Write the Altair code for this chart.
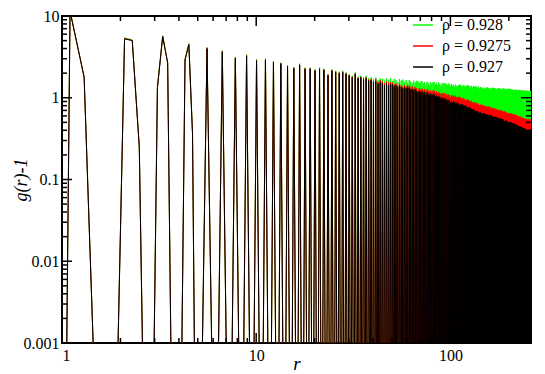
import altair as alt
import pandas as pd

# ---------------- data ----------------
series_labels = ["ρ = 0.928", "ρ = 0.9275", "ρ = 0.927"]
series_colors = ["#00ff00", "#ff0000", "#000000"]

# first four peaks, sample by sample (r, g(r)-1)
r_early = [0.9, 1.1, 1.3, 1.5, 1.9, 2.1, 2.3, 2.5, 2.7, 2.9, 3.1, 3.3, 3.5, 3.7, 4.1, 4.3, 4.5, 4.7, 4.9]
early_green = [1e-20, 11.6, 1.80, 8e-5, 8e-5, 5.40, 5.10, 0.25, 3e-6, 6e-6, 1.35, 5.75, 2.70, 2.5e-5, 1e-4, 2.95, 4.60, 0.37, 5e-6]
early_red = [1e-20, 11.5, 1.79, 8e-5, 8e-5, 5.32, 5.05, 0.25, 3e-6, 6e-6, 1.34, 5.68, 2.68, 2.5e-5, 1e-4, 2.92, 4.53, 0.36, 5e-6]
early_black = [1e-20, 11.4, 1.78, 8e-5, 8e-5, 5.25, 5.00, 0.25, 3e-6, 6e-6, 1.33, 5.60, 2.65, 2.5e-5, 1e-4, 2.90, 4.46, 0.36, 5e-6]

# later peaks: position and top value of each peak
peak_r = [
    5.58, 6.69, 7.81, 8.92, 10.04, 11.16, 12.27, 13.39, 14.50, 15.62,
    16.73, 17.85, 18.96, 20.08, 21.19, 22.31, 23.43, 24.54, 25.66, 26.77,
    27.89, 29.00, 30.12, 31.23, 32.35, 33.47, 34.58, 35.70, 36.81, 37.93,
    39.04, 40.16, 41.27, 42.39, 43.50, 44.62, 45.74, 46.85, 47.97, 49.08,
    50.20, 51.31, 52.43, 53.54, 54.66, 55.78, 56.89, 58.01, 59.12, 60.24,
    61.35, 62.47, 63.58, 64.70, 65.81, 66.93, 68.05, 69.16, 70.28, 71.39,
    72.51, 73.62, 74.74, 75.85, 76.97, 78.09, 79.20, 80.32, 81.43, 82.55,
    83.66, 84.78, 85.89, 87.01, 88.12, 89.24, 90.36, 91.47, 92.59, 93.70,
    94.82, 95.93, 97.05, 98.16, 99.28, 100.40, 101.51, 102.63, 103.74, 104.86,
    105.97, 107.09, 108.20, 109.32, 110.43, 111.55, 112.67, 113.78, 114.90, 116.01,
    117.13, 118.24, 119.36, 120.47, 121.59, 122.71, 123.82, 124.94, 126.05, 127.17,
    128.28, 129.40, 130.51, 131.63, 132.74, 133.86, 134.98, 136.09, 137.21, 138.32,
    139.44, 140.55, 141.67, 142.78, 143.90, 145.02, 146.13, 147.25, 148.36, 149.48,
    150.59, 151.71, 152.82, 153.94, 155.05, 156.17, 157.29, 158.40, 159.52, 160.63,
    161.75, 162.86, 163.98, 165.09, 166.21, 167.33, 168.44, 169.56, 170.67, 171.79,
    172.90, 174.02, 175.13, 176.25, 177.36, 178.48, 179.60, 180.71, 181.83, 182.94,
    184.06, 185.17, 186.29, 187.40, 188.52, 189.64, 190.75, 191.87, 192.98, 194.10,
    195.21, 196.33, 197.44, 198.56, 199.67, 200.79, 201.91, 203.02, 204.14, 205.25,
    206.37, 207.48, 208.60, 209.71, 210.83, 211.95, 213.06, 214.18, 215.29, 216.41,
    217.52, 218.64, 219.75, 220.87, 221.98, 223.10, 224.22, 225.33, 226.45, 227.56,
    228.68, 229.79, 230.91, 232.02, 233.14, 234.26, 235.37, 236.49, 237.60, 238.72,
    239.83, 240.95, 242.06, 243.18, 244.29, 245.41, 246.53, 247.64, 248.76, 249.87,
    250.99, 252.10, 253.22, 254.33, 255.45, 256.57, 257.68, 258.80, 259.91, 261.03,
]
peak_green = [
    4.13, 3.78, 3.14, 3.37, 2.95, 3.00, 2.81, 2.70, 2.50, 2.38,
    2.61, 2.34, 2.34, 2.23, 2.34, 2.27, 1.95, 2.23, 2.14, 2.08,
    2.14, 2.04, 1.95, 1.86, 2.04, 1.81, 1.86, 1.78, 1.86, 1.74,
    1.78, 1.70, 1.78, 1.65, 1.74, 1.70, 1.62, 1.72, 1.66, 1.73,
    1.60, 1.70, 1.64, 1.56, 1.69, 1.62, 1.67, 1.57, 1.64, 1.53,
    1.65, 1.58, 1.50, 1.62, 1.55, 1.61, 1.60, 1.51, 1.57, 1.59,
    1.49, 1.55, 1.45, 1.57, 1.50, 1.42, 1.54, 1.48, 1.56, 1.56,
    1.46, 1.52, 1.43, 1.54, 1.47, 1.40, 1.51, 1.45, 1.52, 1.52,
    1.43, 1.48, 1.40, 1.50, 1.44, 1.37, 1.47, 1.40, 1.44, 1.36,
    1.45, 1.40, 1.32, 1.43, 1.38, 1.45, 1.44, 1.36, 1.41, 1.33,
    1.43, 1.37, 1.30, 1.41, 1.36, 1.42, 1.41, 1.34, 1.39, 1.31,
    1.40, 1.35, 1.28, 1.38, 1.33, 1.39, 1.38, 1.31, 1.36, 1.29,
    1.37, 1.32, 1.25, 1.35, 1.34, 1.27, 1.32, 1.24, 1.33, 1.28,
    1.21, 1.31, 1.26, 1.34, 1.33, 1.26, 1.31, 1.23, 1.32, 1.27,
    1.20, 1.30, 1.25, 1.33, 1.32, 1.25, 1.30, 1.22, 1.31, 1.26,
    1.19, 1.29, 1.24, 1.32, 1.31, 1.24, 1.29, 1.21, 1.30, 1.25,
    1.18, 1.28, 1.23, 1.31, 1.30, 1.23, 1.28, 1.20, 1.29, 1.24,
    1.17, 1.27, 1.22, 1.29, 1.29, 1.22, 1.27, 1.19, 1.28, 1.27,
    1.21, 1.25, 1.17, 1.26, 1.21, 1.14, 1.24, 1.19, 1.26, 1.25,
    1.19, 1.23, 1.16, 1.25, 1.20, 1.13, 1.23, 1.18, 1.25, 1.24,
    1.18, 1.22, 1.15, 1.24, 1.19, 1.12, 1.22, 1.17, 1.23, 1.23,
    1.17, 1.21, 1.14, 1.23, 1.18, 1.11, 1.21, 1.16, 1.22, 1.22,
    1.16, 1.20, 1.13, 1.22, 1.17, 1.10, 1.21, 1.15, 1.21, 1.20,
]
peak_red = [
    4.08, 3.72, 3.10, 3.31, 2.90, 2.95, 2.76, 2.65, 2.45, 2.33,
    2.55, 2.29, 2.29, 2.18, 2.28, 2.22, 1.91, 2.18, 2.09, 2.03,
    2.08, 1.99, 1.90, 1.81, 1.98, 1.76, 1.80, 1.72, 1.79, 1.67,
    1.70, 1.62, 1.69, 1.56, 1.64, 1.60, 1.52, 1.60, 1.54, 1.55,
    1.54, 1.47, 1.50, 1.43, 1.49, 1.43, 1.37, 1.44, 1.38, 1.43,
    1.41, 1.34, 1.38, 1.30, 1.36, 1.31, 1.26, 1.31, 1.26, 1.30,
    1.24, 1.27, 1.22, 1.27, 1.22, 1.18, 1.23, 1.18, 1.23, 1.22,
    1.16, 1.19, 1.13, 1.18, 1.14, 1.10, 1.15, 1.10, 1.14, 1.13,
    1.08, 1.11, 1.05, 1.10, 1.06, 1.02, 1.08, 1.04, 1.06, 1.01,
    1.06, 1.02, 0.98, 1.03, 0.99, 1.02, 1.01, 0.97, 0.99, 0.94,
    0.99, 0.95, 0.91, 0.95, 0.92, 0.95, 0.94, 0.90, 0.92, 0.87,
    0.92, 0.88, 0.85, 0.88, 0.85, 0.88, 0.87, 0.84, 0.85, 0.81,
    0.85, 0.81, 0.78, 0.82, 0.80, 0.82, 0.82, 0.78, 0.80, 0.77,
    0.80, 0.78, 0.75, 0.78, 0.76, 0.78, 0.78, 0.75, 0.76, 0.73,
    0.77, 0.74, 0.71, 0.74, 0.72, 0.75, 0.74, 0.71, 0.73, 0.69,
    0.73, 0.71, 0.68, 0.71, 0.69, 0.71, 0.71, 0.68, 0.69, 0.67,
    0.70, 0.67, 0.65, 0.68, 0.65, 0.68, 0.68, 0.64, 0.66, 0.64,
    0.66, 0.64, 0.62, 0.65, 0.62, 0.65, 0.65, 0.62, 0.64, 0.62,
    0.64, 0.62, 0.60, 0.63, 0.60, 0.63, 0.63, 0.60, 0.61, 0.59,
    0.62, 0.59, 0.57, 0.60, 0.59, 0.60, 0.60, 0.58, 0.58, 0.56,
    0.59, 0.57, 0.55, 0.57, 0.56, 0.57, 0.57, 0.55, 0.56, 0.54,
    0.56, 0.54, 0.53, 0.55, 0.54, 0.55, 0.55, 0.53, 0.54, 0.52,
    0.55, 0.53, 0.51, 0.53, 0.52, 0.54, 0.55, 0.53, 0.54, 0.53,
]
peak_black = [
    3.98, 3.64, 3.03, 3.25, 2.84, 2.89, 2.70, 2.60, 2.40, 2.29,
    2.51, 2.25, 2.25, 2.14, 2.25, 2.18, 1.87, 2.14, 2.05, 2.00,
    2.05, 1.96, 1.87, 1.78, 1.95, 1.73, 1.77, 1.67, 1.73, 1.62,
    1.64, 1.55, 1.60, 1.49, 1.55, 1.50, 1.43, 1.50, 1.43, 1.47,
    1.46, 1.38, 1.42, 1.35, 1.40, 1.35, 1.30, 1.35, 1.30, 1.34,
    1.32, 1.26, 1.28, 1.22, 1.27, 1.21, 1.17, 1.21, 1.16, 1.20,
    1.14, 1.17, 1.11, 1.16, 1.12, 1.07, 1.12, 1.07, 1.10, 1.09,
    1.04, 1.06, 1.01, 1.05, 1.01, 0.97, 1.01, 0.97, 0.99, 0.98,
    0.93, 0.95, 0.90, 0.94, 0.90, 0.86, 0.90, 0.87, 0.90, 0.89,
    0.85, 0.87, 0.83, 0.87, 0.83, 0.80, 0.83, 0.81, 0.83, 0.82,
    0.79, 0.80, 0.76, 0.80, 0.77, 0.73, 0.76, 0.74, 0.76, 0.75,
    0.72, 0.73, 0.69, 0.73, 0.70, 0.67, 0.69, 0.67, 0.69, 0.68,
    0.65, 0.66, 0.63, 0.66, 0.64, 0.61, 0.64, 0.62, 0.65, 0.64,
    0.61, 0.63, 0.60, 0.63, 0.61, 0.58, 0.61, 0.60, 0.62, 0.61,
    0.59, 0.60, 0.57, 0.60, 0.58, 0.56, 0.58, 0.57, 0.59, 0.58,
    0.56, 0.57, 0.54, 0.57, 0.55, 0.54, 0.55, 0.54, 0.56, 0.55,
    0.53, 0.54, 0.51, 0.54, 0.52, 0.51, 0.52, 0.51, 0.53, 0.52,
    0.50, 0.51, 0.48, 0.51, 0.49, 0.48, 0.50, 0.48, 0.50, 0.50,
    0.48, 0.49, 0.47, 0.49, 0.47, 0.45, 0.48, 0.46, 0.48, 0.47,
    0.45, 0.47, 0.44, 0.46, 0.45, 0.43, 0.45, 0.43, 0.45, 0.45,
    0.42, 0.44, 0.42, 0.44, 0.42, 0.40, 0.43, 0.41, 0.42, 0.42,
    0.40, 0.42, 0.39, 0.41, 0.40, 0.39, 0.40, 0.38, 0.40, 0.40,
    0.38, 0.40, 0.38, 0.40, 0.38, 0.37, 0.40, 0.38, 0.39, 0.39,
]
valley_value = 1e-5          # g(r)-1 between peaks (below the plotted range)
peak_half_left, peak_half_right = 0.45, 0.50

x_major = [1, 10, 100]
x_minor = [2, 3, 4, 5, 6, 7, 8, 9, 20, 30, 40, 50, 60, 70, 80, 90, 200]
y_major = [0.001, 0.01, 0.1, 1, 10]
y_minor = [0.002, 0.003, 0.004, 0.005, 0.006, 0.007, 0.008, 0.009,
           0.02, 0.03, 0.04, 0.05, 0.06, 0.07, 0.08, 0.09,
           0.2, 0.3, 0.4, 0.5, 0.6, 0.7, 0.8, 0.9,
           2, 3, 4, 5, 6, 7, 8, 9]


def build(early_vals, peak_vals, label):
    rs, gs = list(r_early), list(early_vals)
    for r, h in zip(peak_r, peak_vals):
        rs += [r - peak_half_left, r, r + peak_half_right]
        gs += [valley_value, h, valley_value]
    return pd.DataFrame({"r": rs, "g": gs, "series": label, "order": list(range(len(rs)))})


df_green = build(early_green, peak_green, series_labels[0])
df_red = build(early_red, peak_red, series_labels[1])
df_black = build(early_black, peak_black, series_labels[2])

W, H = 469, 327
FONT = "'Liberation Serif', 'Times New Roman', Times, serif"
xs = alt.Scale(type="log", domain=[1, 260], nice=False)
ys = alt.Scale(type="log", domain=[0.001, 10], nice=False)

x_axis = alt.Axis(values=x_major, format="~g", ticks=False, tickSize=0, domain=False, grid=False,
                  labelFont=FONT, labelFontSize=16, labelColor="black", labelPadding=4,
                  title="r", titleFont=FONT, titleFontStyle="italic", titleFontWeight="normal",
                  titleFontSize=19, titleColor="black", titleY=26, titleBaseline="alphabetic")
y_axis = alt.Axis(values=y_major, format="~g", ticks=False, tickSize=0, domain=False, grid=False,
                  labelFont=FONT, labelFontSize=16, labelColor="black", labelPadding=3,
                  title="g(r)-1", titleFont=FONT, titleFontStyle="italic", titleFontWeight="normal",
                  titleFontSize=18, titleColor="black", titleX=-36, titleBaseline="alphabetic",
                  titleAngle=270)

color = alt.Color("series:N",
                  scale=alt.Scale(domain=series_labels, range=series_colors),
                  legend=alt.Legend(orient="none", legendX=350, legendY=-2, title=None,
                                    symbolType="stroke", symbolSize=400, symbolStrokeWidth=1.5,
                                    labelFont=FONT, labelFontSize=16, labelColor="black",
                                    labelOffset=8, rowPadding=2, padding=0))


def line_layer(df):
    return alt.Chart(df).mark_line(clip=True, strokeWidth=1).encode(
        x=alt.X("r:Q", scale=xs, axis=x_axis),
        y=alt.Y("g:Q", scale=ys, axis=y_axis),
        color=color,
        order="order:Q",
    )


def xticks(vals, length, top):
    ch = alt.Chart(pd.DataFrame({"v": vals})).mark_rule(color="black", strokeWidth=1.5)
    xenc = alt.X("v:Q", scale=xs, axis=x_axis)
    if top:
        return ch.encode(x=xenc, y=alt.value(0), y2=alt.value(length))
    return ch.encode(x=xenc, y=alt.value(H), y2=alt.value(H - length))


def yticks(vals, length, right):
    ch = alt.Chart(pd.DataFrame({"v": vals})).mark_rule(color="black", strokeWidth=1.5)
    yenc = alt.Y("v:Q", scale=ys, axis=y_axis)
    if right:
        return ch.encode(y=yenc, x=alt.value(W), x2=alt.value(W - length))
    return ch.encode(y=yenc, x=alt.value(0), x2=alt.value(length))


layers = [line_layer(df_green), line_layer(df_red), line_layer(df_black)]
for top in (False, True):
    layers += [xticks(x_major, 10, top), xticks(x_minor, 5, top)]
for right in (False, True):
    layers += [yticks(y_major, 10, right), yticks(y_minor, 5, right)]

chart = alt.layer(*layers).properties(
    width=W, height=H,
    autosize=alt.AutoSizeParams(type="none"),
    padding={"left": 54, "top": 8, "right": 6, "bottom": 31},
    background="white",
).configure_view(stroke="black", strokeWidth=2)

chart.save("out.html", embed_options={"renderer": "svg", "actions": False})
